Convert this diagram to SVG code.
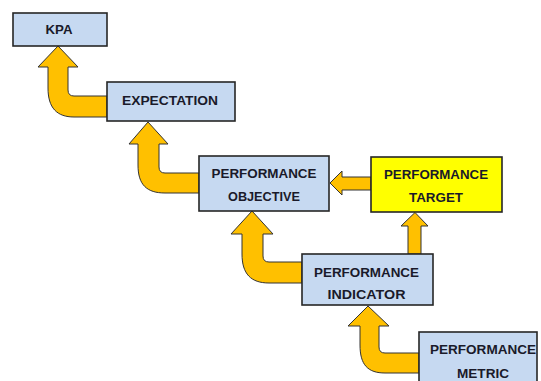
<svg xmlns="http://www.w3.org/2000/svg" width="541" height="381" viewBox="0 0 541 381">
<style>
.box{fill:#C6D9F1;stroke:#262626;stroke-width:1.6}
.yel{fill:#FFFF00;stroke:#262626;stroke-width:1.6}
.arr{fill:#FFC000;stroke:#333;stroke-width:1;stroke-linejoin:miter}
text{font-family:"Liberation Sans",Arial,sans-serif;font-weight:bold;font-size:13.5px;fill:#1a1a2a;text-anchor:middle}
</style>
<rect width="541" height="381" fill="#fff"/>
<g id="connectors">
<path class="arr" d="M107,96 L74,96 Q68,96 68,90 L68,67 L78,67 L58,46 L38,67 L48,67 L48,88 C48,108 57,117 74,117 L107,117 Z"/>
<path class="arr" d="M199,173 L165,173 Q159,173 159,167 L159,144 L168,144 L148,122 L129,144 L138,144 L138,165 C138,185 147,193 165,193 L199,193 Z"/>
<path class="arr" d="M302,262 L269,262 Q263,262 263,256 L263,234 L273,234 L252,211 L231,234 L242,234 L242,254 C242,274 251,283 269,283 L302,283 Z"/>
<path class="arr" d="M419,353 L385,353 Q379,353 379,347 L379,326 L389,326 L368,306 L348,326 L360,326 L360,345 C360,365 368,373 385,373 L419,373 Z"/>
<path class="arr" d="M421,254 L421,226 L428,226 L415,212.5 L401,226 L408,226 L408,254 Z"/>
<path class="arr" d="M371,177 L342,177 L342,171 L330,183 L342,195 L342,190 L371,190 Z"/>
</g>
<g id="kpa">
<rect class="box" x="13" y="13" width="94" height="33"/>
<text x="59" y="34" textLength="27" lengthAdjust="spacingAndGlyphs">KPA</text>
</g>
<g id="expectation">
<rect class="box" x="107" y="82" width="128" height="39"/>
<text x="170" y="104.5" textLength="96" lengthAdjust="spacingAndGlyphs">EXPECTATION</text>
</g>
<g id="objective">
<rect class="box" x="199" y="156" width="130" height="55"/>
<text x="264" y="177.5" textLength="105" lengthAdjust="spacingAndGlyphs">PERFORMANCE</text>
<text x="264" y="200.5" textLength="72" lengthAdjust="spacingAndGlyphs">OBJECTIVE</text>
</g>
<g id="target">
<rect class="yel" x="371" y="157" width="131" height="55"/>
<text x="436" y="178.5" textLength="104" lengthAdjust="spacingAndGlyphs">PERFORMANCE</text>
<text x="436" y="201.5" textLength="54" lengthAdjust="spacingAndGlyphs">TARGET</text>
</g>
<g id="indicator">
<rect class="box" x="302" y="254" width="131" height="51"/>
<text x="366.5" y="276.5" textLength="105" lengthAdjust="spacingAndGlyphs">PERFORMANCE</text>
<text x="366.5" y="298.5" textLength="78" lengthAdjust="spacingAndGlyphs">INDICATOR</text>
</g>
<g id="metric">
<rect class="box" x="419" y="332" width="118" height="60"/>
<text x="483" y="353.5" textLength="106" lengthAdjust="spacingAndGlyphs">PERFORMANCE</text>
<text x="483" y="377.5" textLength="52" lengthAdjust="spacingAndGlyphs">METRIC</text>
</g>
</svg>
